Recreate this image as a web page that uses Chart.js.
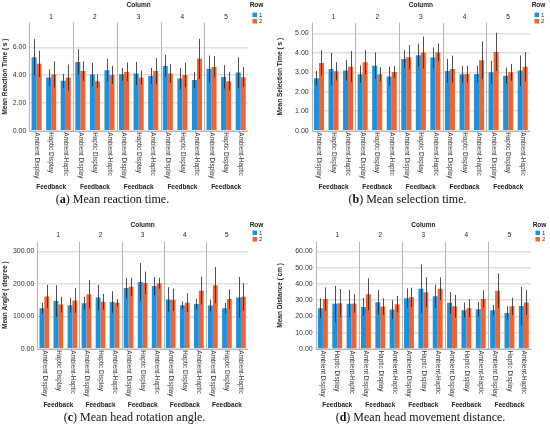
<!DOCTYPE html>
<html>
<head>
<meta charset="utf-8">
<script src="https://cdn.jsdelivr.net/npm/chart.js@4.4.1/dist/chart.umd.min.js"></script>
<style>
  body { margin: 0; background: #fff; }
  #wrap { position: relative; width: 550px; height: 428px; overflow: hidden; }
  #wrap canvas { position: absolute; }
  .caption {
    position: absolute; width: 275px; text-align: center; line-height: 14px;
    font-family: "Liberation Serif", "Times New Roman", serif; font-size: 12px; color: #111;
  }
</style>
</head>
<body>
<div id="wrap">
  <canvas id="chartA" width="275" height="195" style="left:0;top:0"></canvas>
  <canvas id="chartB" width="275" height="195" style="left:275px;top:0"></canvas>
  <canvas id="chartC" width="275" height="195" style="left:0;top:218px"></canvas>
  <canvas id="chartD" width="275" height="195" style="left:275px;top:218px"></canvas>
  <div class="caption" style="left:-25px;top:192px">(<b>a</b>) Mean reaction time.</div>
  <div class="caption" style="left:270px;top:192px">(<b>b</b>) Mean selection time.</div>
  <div class="caption" style="left:-3px;top:410px">(<b>c</b>) Mean head rotation angle.</div>
  <div class="caption" style="left:283px;top:410px">(<b>d</b>) Mean head movement distance.</div>
</div>
<script>
const columns = ["1", "2", "3", "4", "5"];
const feedback = ["Ambient Display", "Haptic Display", "Ambient-Haptic"];
const rows = ["1", "2"];

// 15 values per series: column 1..5, each with the three feedback types
const reactionRow1 = [5.30, 3.83, 3.60, 4.96, 4.05, 4.36, 4.07, 4.12, 3.95, 4.67, 3.76, 3.66, 4.46, 3.88, 4.19];
const reactionRow2 = [4.82, 4.05, 3.83, 4.30, 3.57, 4.02, 4.24, 3.83, 4.30, 4.12, 4.02, 5.18, 4.60, 3.57, 3.86];
const reactionErr1 = [1.30, 0.60, 0.50, 0.92, 0.85, 0.82, 0.46, 0.84, 0.58, 0.80, 0.77, 0.58, 0.96, 0.84, 1.10];
const reactionErr2 = [0.95, 0.95, 0.95, 0.70, 0.48, 0.65, 0.68, 0.50, 0.93, 0.68, 0.88, 1.45, 0.77, 0.67, 0.72];
const reactionTicks = [0, 2, 4, 6];

const selectionRow1 = [2.69, 3.17, 3.10, 2.90, 3.34, 2.79, 3.69, 3.88, 3.76, 3.07, 2.90, 2.91, 3.00, 2.83, 3.09];
const selectionRow2 = [3.48, 3.05, 3.29, 3.52, 2.90, 3.02, 3.78, 4.02, 4.03, 3.17, 2.91, 3.62, 4.05, 3.00, 3.28];
const selectionErr1 = [0.38, 0.83, 0.52, 0.45, 0.68, 0.48, 0.45, 0.59, 0.53, 0.62, 0.43, 0.42, 0.59, 0.41, 0.78];
const selectionErr2 = [0.66, 0.47, 0.80, 0.62, 0.36, 0.30, 0.62, 0.82, 0.45, 0.69, 0.42, 0.97, 0.98, 0.43, 0.76];
const selectionTicks = [0, 1, 2, 3, 4, 5];

const angleRow1 = [125, 147, 134, 140, 158, 144, 187, 206, 193, 152, 134, 138, 133, 125, 158];
const angleRow2 = [161, 136, 149, 168, 145, 142, 191, 203, 202, 151, 142, 179, 196, 153, 160];
const angleErr1 = [16, 49, 23, 20, 39, 33, 32, 58, 28, 38, 12, 16, 18, 16, 63];
const angleErr2 = [36, 24, 38, 44, 24, 11, 28, 35, 17, 34, 29, 43, 56, 30, 42];
const angleTicks = [0, 100, 200, 300];

const distanceRow1 = [25.1, 27.8, 27.8, 25.9, 28.8, 24.3, 31.2, 37.1, 32.4, 28.4, 23.9, 24.5, 23.9, 22.2, 26.5];
const distanceRow2 = [30.8, 28.2, 28.0, 33.7, 26.1, 27.6, 31.8, 34.9, 37.1, 26.3, 25.1, 30.8, 35.9, 26.3, 28.6];
const distanceErr1 = [6.0, 11.0, 8.5, 5.5, 7.5, 5.7, 6.1, 14.9, 7.2, 6.7, 4.7, 4.5, 3.2, 4.1, 11.7];
const distanceErr2 = [7.1, 8.7, 5.7, 9.8, 5.1, 5.1, 6.0, 9.2, 7.0, 7.0, 5.5, 5.3, 10.6, 5.3, 7.7];
const distanceTicks = [0, 10, 20, 30, 40, 50, 60];

const BLUE = "#1f90dc";
const ORANGE = "#f4632f";
const FONT = '"Liberation Sans", Arial, sans-serif';
const W = 275, H = 195;

const labels = columns.flatMap(c => feedback.map(f => c + "|" + f));

function facetPlugin(p) {
  return {
    id: "facets",
    afterDatasetsDraw(chart) {
      const ctx = chart.ctx;
      const xs = chart.scales.x, ys = chart.scales.y;
      const a = chart.chartArea;
      ctx.save();

      // error bars
      ctx.strokeStyle = "rgba(35,35,35,0.8)";
      ctx.lineWidth = 1;
      [p.err1, p.err2].forEach((errs, d) => {
        const vals = chart.data.datasets[d].data;
        chart.getDatasetMeta(d).data.forEach((bar, i) => {
          const px = Math.round(bar.x) + 0.5;
          ctx.beginPath();
          ctx.moveTo(px, ys.getPixelForValue(vals[i] + errs[i]));
          ctx.lineTo(px, ys.getPixelForValue(vals[i] - errs[i]));
          ctx.stroke();
        });
      });

      // facet separators and base line
      ctx.strokeStyle = "#b4b4b4";
      ctx.lineWidth = 1;
      columns.forEach((c, k) => {
        const sx = Math.round(xs.getPixelForValue(k * 3 - 0.5)) + 0.5;
        ctx.beginPath();
        ctx.moveTo(sx, a.top);
        ctx.lineTo(sx, a.bottom);
        ctx.stroke();
      });
      ctx.beginPath();
      ctx.moveTo(a.left, Math.round(a.bottom) + 0.5);
      ctx.lineTo(a.right, Math.round(a.bottom) + 0.5);
      ctx.stroke();

      // header
      ctx.fillStyle = "#222";
      ctx.textAlign = "center";
      ctx.textBaseline = "middle";
      ctx.font = "bold 6.5px " + FONT;
      ctx.fillText("Column", (a.left + a.right) / 2, p.headY);
      ctx.font = "6.5px " + FONT;
      columns.forEach((c, k) => {
        ctx.fillText(c, xs.getPixelForValue(k * 3 + 1), 17.7);
      });

      // rotated category labels
      ctx.fillStyle = "#333";
      ctx.font = "6.4px " + FONT;
      ctx.textAlign = "left";
      labels.forEach((lab, i) => {
        ctx.save();
        ctx.translate(xs.getPixelForValue(i), a.bottom + 1.5);
        ctx.rotate(Math.PI / 2);
        ctx.fillText(lab.split("|")[1], 0, 0);
        ctx.restore();
      });

      // Feedback titles
      ctx.fillStyle = "#222";
      ctx.textAlign = "center";
      ctx.font = "bold 6.5px " + FONT;
      columns.forEach((c, k) => {
        ctx.fillText("Feedback", xs.getPixelForValue(k * 3 + 1), 187);
      });

      // legend
      ctx.fillText("Row", a.right + 8.5, p.headY);
      ctx.font = "6px " + FONT;
      ctx.textAlign = "left";
      [BLUE, ORANGE].forEach((col, j) => {
        ctx.fillStyle = col;
        ctx.fillRect(a.right + 4.5, 12.6 + j * 6.4, 4.5, 4.5);
        ctx.fillStyle = "#333";
        ctx.fillText(rows[j], a.right + 11, 15 + j * 6.4);
      });

      ctx.restore();
    }
  };
}

function drawPanel(id, p) {
  new Chart(document.getElementById(id), {
    type: "bar",
    data: {
      labels,
      datasets: [
        { label: rows[0], data: p.row1, backgroundColor: BLUE, borderWidth: 0 },
        { label: rows[1], data: p.row2, backgroundColor: ORANGE, borderWidth: 0 }
      ]
    },
    options: {
      responsive: false,
      animation: false,
      events: [],
      categoryPercentage: 0.69,
      barPercentage: 1,
      layout: {
        padding: { left: 0, top: p.top, right: W - p.right, bottom: H - p.bottom }
      },
      plugins: {
        legend: { display: false },
        tooltip: { enabled: false }
      },
      scales: {
        x: { display: false, offset: true },
        y: {
          min: 0,
          max: p.max,
          afterFit: s => { s.width = p.left; },
          afterBuildTicks: s => { s.ticks = p.ticks.map(v => ({ value: v })); },
          border: { display: false },
          grid: { color: "#dedede", lineWidth: 1.5, drawTicks: false },
          ticks: {
            font: { size: 7, family: FONT },
            color: "#333",
            padding: 3,
            callback: v => Number(v).toFixed(2)
          },
          title: {
            display: true,
            text: p.title,
            color: "#222",
            font: { size: 6.5, weight: "bold", family: FONT },
            padding: { top: 1, bottom: 0 }
          }
        }
      }
    },
    plugins: [facetPlugin(p)]
  });
}

drawPanel("chartA", {
  title: "Mean Reaction Time ( s )", max: 7.8, ticks: reactionTicks,
  row1: reactionRow1, row2: reactionRow2, err1: reactionErr1, err2: reactionErr2,
  left: 29.3, right: 248, top: 22.5, bottom: 130.7, headY: 5.7
});
drawPanel("chartB", {
  title: "Mean Selection Time ( s )", max: 5.55, ticks: selectionTicks,
  row1: selectionRow1, row2: selectionRow2, err1: selectionErr1, err2: selectionErr2,
  left: 36.7, right: 255, top: 22.7, bottom: 130.7, headY: 5.7
});
drawPanel("chartC", {
  title: "Mean Angle ( degree )", max: 330, ticks: angleTicks,
  row1: angleRow1, row2: angleRow2, err1: angleErr1, err2: angleErr2,
  left: 37.3, right: 248, top: 23.7, bottom: 130.7, headY: 7
});
drawPanel("chartD", {
  title: "Mean Distance ( cm )", max: 66, ticks: distanceTicks,
  row1: distanceRow1, row2: distanceRow2, err1: distanceErr1, err2: distanceErr2,
  left: 40.7, right: 256, top: 23.7, bottom: 131, headY: 7
});
</script>
</body>
</html>
